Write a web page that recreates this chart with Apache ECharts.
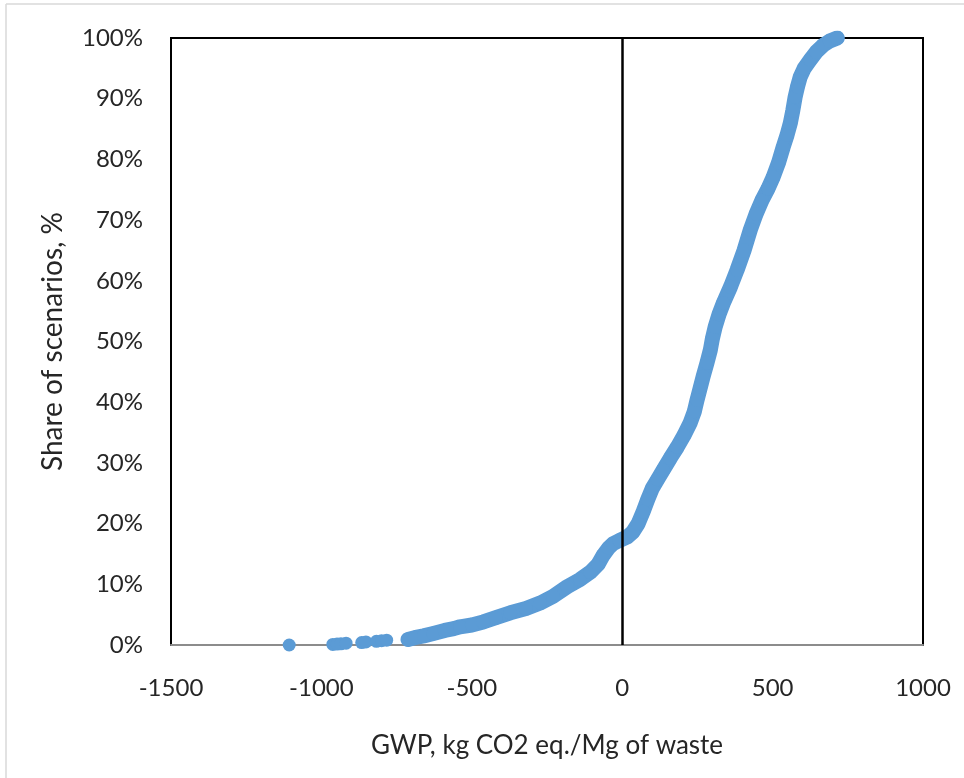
<!DOCTYPE html>
<html><head><meta charset="utf-8">
<script src="https://cdn.jsdelivr.net/npm/echarts@6/dist/echarts.min.js"></script>
<style>html,body{margin:0;padding:0;background:#fff}#c{width:964px;height:778px}</style>
</head><body><div id="c"></div>
<script>
// Isolated low-tail scenarios (GWP, share %)
const tailGwp   = [-1107, -962, -948, -935, -918, -866, -852, -817, -800, -783];
const tailShare = [0.0,   0.1,  0.15, 0.2,  0.3,  0.4,  0.5,  0.6,  0.7,  0.8];
// Continuous part of the cumulative distribution
const gwp = [-712,-690,-660,-628,-590,-560,-539,-500,-462,-420,-372,-320,-273,-230,-183,-140,-106,-80,-63,-45,-30,-10,17,35,53,70,85,100,118,136,160,183,205,226,240,249,260,269,282,293,300,309,322,336,360,382,405,426,445,465,485,502,520,535,548,559,567,575,583,592,605,625,645,668,690,715];
const share = [0.9,1.2,1.5,1.9,2.4,2.7,3.0,3.3,3.8,4.5,5.3,6.0,6.9,8.0,9.6,10.8,12.0,13.3,14.8,16.0,16.7,17.2,17.8,18.6,20.0,22.0,24.0,25.8,27.3,28.8,30.8,32.6,34.5,36.6,38.5,40.4,42.5,44.2,46.5,48.6,50.5,52.4,54.5,56.3,59.0,61.8,65.0,68.4,71.0,73.3,75.2,77.1,79.5,82.0,84.0,86.0,88.0,90.3,92.0,93.6,95.0,96.4,97.7,98.8,99.5,100];
const xTicks = [-1500, -1000, -500, 0, 500, 1000];
const yTicks = [0,10,20,30,40,50,60,70,80,90,100];

const blue = '#5B9BD5';
const font = 'Lato, "Open Sans", sans-serif';
const chart = echarts.init(document.getElementById('c'), null, {renderer:'canvas'});
chart.setOption({
  backgroundColor:'#fff',
  animation:false,
  graphic:[
    {type:'line', shape:{x1:6,y1:4,x2:964,y2:4}, style:{stroke:'#d9d9d9',lineWidth:1.5}},
    {type:'line', shape:{x1:6,y1:4,x2:6,y2:778}, style:{stroke:'#d9d9d9',lineWidth:1.5}}
  ],
  grid:{left:171,right:41,top:38,bottom:133,show:true,borderColor:'#000',borderWidth:2,backgroundColor:'transparent'},
  xAxis:{type:'value',min:xTicks[0],max:xTicks[xTicks.length-1],interval:500,
    name:'GWP, kg CO2 eq./Mg of waste',nameLocation:'middle',nameGap:88,
    nameTextStyle:{fontFamily:font,fontSize:26,color:'#262626'},
    axisLine:{show:true,onZero:false,lineStyle:{color:'#8c8c8c',width:2}},
    axisTick:{show:false},splitLine:{show:false},
    axisLabel:{fontFamily:font,fontSize:24,color:'#262626',margin:31,formatter:v=>String(v)}},
  yAxis:{type:'value',min:yTicks[0],max:yTicks[yTicks.length-1],interval:10,
    name:'Share of scenarios, %',nameLocation:'middle',nameGap:104,
    nameTextStyle:{fontFamily:font,fontSize:28,color:'#262626'},
    axisLine:{show:false},axisTick:{show:false},splitLine:{show:false},
    axisLabel:{fontFamily:font,fontSize:24,color:'#262626',margin:28,formatter:v=>v+'%'}},
  series:[
    {type:'line',data:gwp.map((x,i)=>[x,share[i]]),showSymbol:true,symbol:'circle',symbolSize:14,
      itemStyle:{color:blue},lineStyle:{color:blue,width:15,cap:'round',join:'round'},z:3,
      markLine:{silent:true,symbol:['none','none'],label:{show:false},
        lineStyle:{color:'#000',width:2.5,type:'solid'},data:[{xAxis:0}]}},
    {type:'scatter',data:tailGwp.map((x,i)=>[x,tailShare[i]]),symbol:'circle',symbolSize:13,
      itemStyle:{color:blue,opacity:1},z:3}
  ]
});
</script></body></html>
